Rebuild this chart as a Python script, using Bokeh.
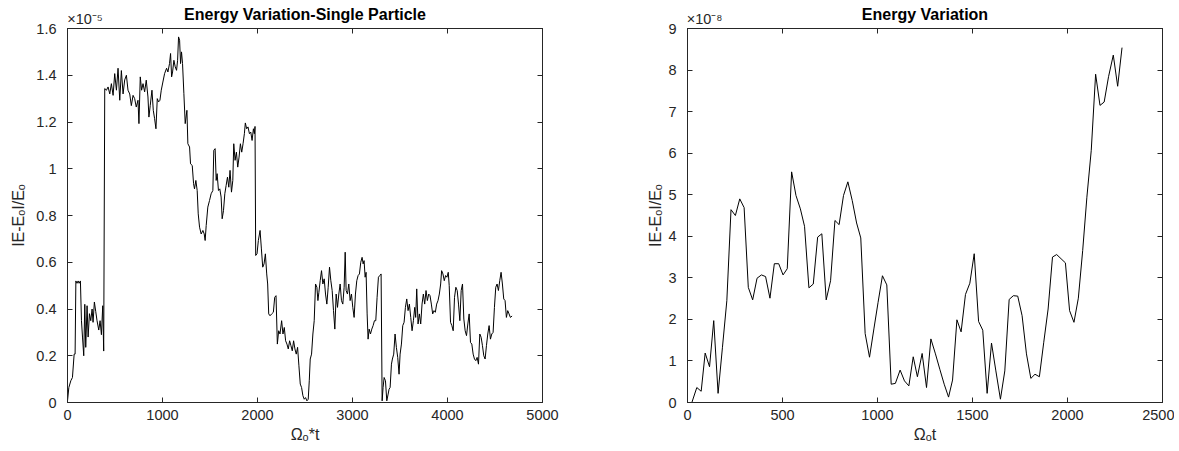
from bokeh.plotting import figure
from bokeh.layouts import row
from bokeh.models import Range1d, LinearAxis, FixedTicker, CustomJSTickFormatter
from bokeh.embed import file_html
from bokeh.resources import INLINE

# ---------------- data ----------------
# Left panel: single particle, y in units of 1e-5
left_x = [0, 14, 35, 52, 70, 80, 88, 100, 112, 122, 136, 147, 158, 171, 182, 192, 206, 217, 231, 245,
          259, 269, 283, 297, 311, 329, 343, 357, 371, 381, 392, 410, 427, 445, 462, 480, 497, 515, 532, 550,
          567, 585, 602, 620, 637, 655, 672, 690, 707, 724, 742, 752, 766, 780, 795, 812, 829, 847, 857, 871,
          889, 903, 917, 931, 945, 959, 973, 987, 1004, 1022, 1043, 1057, 1074, 1085, 1096, 1106, 1120, 1134, 1148, 1159,
          1169, 1180, 1190, 1200, 1211, 1225, 1239, 1257, 1267, 1285, 1295, 1313, 1327, 1337, 1351, 1365, 1376, 1390, 1407, 1425,
          1439, 1449, 1460, 1477, 1495, 1512, 1530, 1540, 1554, 1565, 1575, 1589, 1603, 1617, 1628, 1642, 1656, 1670, 1684, 1698,
          1711, 1726, 1740, 1750, 1764, 1778, 1792, 1806, 1820, 1834, 1848, 1862, 1872, 1886, 1900, 1915, 1929, 1943, 1957, 1967,
          1974, 1981, 1995, 2009, 2027, 2041, 2055, 2069, 2083, 2097, 2107, 2118, 2132, 2149, 2167, 2181, 2195, 2209, 2223, 2237,
          2254, 2268, 2282, 2296, 2310, 2324, 2338, 2352, 2366, 2380, 2394, 2408, 2422, 2436, 2450, 2464, 2478, 2492, 2506, 2520,
          2534, 2545, 2555, 2569, 2583, 2597, 2611, 2625, 2636, 2646, 2660, 2674, 2688, 2702, 2716, 2730, 2744, 2758, 2772, 2786,
          2800, 2814, 2828, 2842, 2856, 2870, 2884, 2898, 2912, 2923, 2933, 2947, 2961, 2975, 2989, 3003, 3017, 3031, 3045, 3059,
          3073, 3087, 3101, 3112, 3122, 3133, 3143, 3154, 3164, 3175, 3189, 3203, 3217, 3231, 3245, 3259, 3273, 3287, 3301, 3312,
          3322, 3333, 3347, 3361, 3375, 3385, 3396, 3410, 3420, 3434, 3448, 3462, 3476, 3490, 3501, 3515, 3529, 3543, 3557, 3571,
          3585, 3599, 3613, 3627, 3641, 3655, 3665, 3676, 3690, 3704, 3718, 3732, 3746, 3760, 3774, 3788, 3802, 3816, 3830, 3844,
          3858, 3872, 3886, 3900, 3914, 3928, 3938, 3952, 3966, 3980, 3994, 4008, 4018, 4032, 4046, 4060, 4074, 4088, 4102, 4116,
          4130, 4144, 4158, 4172, 4186, 4200, 4214, 4228, 4242, 4256, 4270, 4284, 4298, 4312, 4326, 4340, 4354, 4368, 4382, 4396,
          4410, 4424, 4438, 4452, 4466, 4480, 4494, 4508, 4522, 4536, 4550, 4564, 4578, 4592, 4606, 4620, 4634, 4648, 4662, 4680]
left_y = [0.007, 0.064, 0.093, 0.107, 0.207, 0.207, 0.52, 0.51, 0.52, 0.51, 0.52, 0.35, 0.28, 0.20, 0.42, 0.236, 0.414, 0.28, 0.38, 0.35,
          0.40, 0.343, 0.43, 0.39, 0.35, 0.31, 0.35, 0.29, 0.414, 0.22, 1.343, 1.336, 1.35, 1.32, 1.364, 1.314, 1.407, 1.336, 1.43, 1.293,
          1.42, 1.32, 1.38, 1.40, 1.336, 1.32, 1.27, 1.314, 1.30, 1.264, 1.293, 1.193, 1.393, 1.336, 1.364, 1.329, 1.379, 1.307, 1.221, 1.271,
          1.336, 1.25, 1.214, 1.171, 1.30, 1.286, 1.293, 1.336, 1.371, 1.407, 1.43, 1.414, 1.45, 1.493, 1.393, 1.414, 1.464, 1.436, 1.421, 1.464,
          1.564, 1.55, 1.45, 1.50, 1.45, 1.321, 1.193, 1.25, 1.107, 1.093, 1.021, 1.014, 0.936, 0.914, 0.95, 0.907, 0.807, 0.75, 0.721, 0.736,
          0.721, 0.693, 0.757, 0.836, 0.864, 0.893, 0.907, 1.079, 1.086, 0.95, 0.979, 0.907, 0.914, 0.879, 0.786, 0.821, 0.893, 0.929, 0.964, 0.921,
          0.993, 0.90, 0.95, 1.107, 1.036, 1.071, 1.007, 1.05, 1.107, 1.071, 1.107, 1.15, 1.196, 1.171, 1.179, 1.15, 1.157, 1.121, 1.171, 1.15,
          1.181, 0.629, 0.636, 0.693, 0.736, 0.657, 0.579, 0.593, 0.636, 0.55, 0.507, 0.379, 0.371, 0.379, 0.386, 0.45, 0.457, 0.25, 0.307, 0.293,
          0.35, 0.293, 0.321, 0.264, 0.25, 0.229, 0.264, 0.243, 0.221, 0.264, 0.229, 0.207, 0.236, 0.157, 0.079, 0.064, 0.029, 0.014, 0.021, 0.007,
          0.014, 0.093, 0.186, 0.207, 0.293, 0.35, 0.507, 0.493, 0.436, 0.471, 0.521, 0.564, 0.507, 0.529, 0.464, 0.421, 0.493, 0.579, 0.521, 0.479,
          0.393, 0.314, 0.464, 0.407, 0.464, 0.507, 0.436, 0.421, 0.493, 0.643, 0.479, 0.464, 0.507, 0.436, 0.464, 0.407, 0.364, 0.464, 0.521, 0.543,
          0.55, 0.60, 0.621, 0.593, 0.607, 0.536, 0.557, 0.379, 0.271, 0.314, 0.293, 0.314, 0.329, 0.35, 0.35, 0.45, 0.536, 0.543, 0.55, 0.007,
          0.064, 0.107, 0.093, 0.007, 0.036, 0.057, 0.064, 0.164, 0.186, 0.207, 0.293, 0.236, 0.193, 0.121, 0.207, 0.25, 0.329, 0.343, 0.407, 0.443,
          0.393, 0.421, 0.364, 0.307, 0.35, 0.407, 0.364, 0.486, 0.336, 0.379, 0.336, 0.421, 0.464, 0.421, 0.479, 0.436, 0.464, 0.457, 0.421, 0.379,
          0.393, 0.386, 0.421, 0.436, 0.464, 0.507, 0.564, 0.55, 0.521, 0.543, 0.536, 0.557, 0.50, 0.343, 0.329, 0.307, 0.45, 0.493, 0.479, 0.421,
          0.35, 0.479, 0.507, 0.357, 0.307, 0.286, 0.336, 0.379, 0.257, 0.25, 0.207, 0.186, 0.179, 0.193, 0.164, 0.293, 0.279, 0.243, 0.20, 0.186,
          0.243, 0.293, 0.329, 0.271, 0.293, 0.30, 0.407, 0.493, 0.507, 0.479, 0.521, 0.557, 0.507, 0.443, 0.436, 0.364, 0.393, 0.379, 0.364, 0.37]

# Right panel: all particles, y in units of 1e-8
right_x = [23, 49, 72, 93, 116, 138, 161, 184, 207, 229, 252, 275, 298, 320, 343, 366, 389, 411, 434, 457,
           480, 503, 525, 548, 571, 594, 616, 639, 662, 685, 707, 730, 753, 776, 798, 821, 844, 867, 890, 912,
           935, 958, 981, 1003, 1026, 1049, 1072, 1094, 1119, 1142, 1165, 1188, 1210, 1235, 1258, 1281, 1305, 1328, 1351, 1374,
           1395, 1418, 1440, 1463, 1486, 1509, 1532, 1554, 1577, 1600, 1623, 1647, 1670, 1693, 1715, 1738, 1761, 1784, 1807, 1829,
           1852, 1875, 1898, 1921, 1943, 1966, 1989, 2011, 2034, 2057, 2080, 2102, 2125, 2148, 2171, 2193, 2216, 2241, 2264, 2287]
right_y = [0.0, 0.36, 0.27, 1.19, 0.86, 1.97, 0.22, 1.33, 2.45, 4.64, 4.5, 4.9, 4.69, 2.77, 2.47, 2.99, 3.07, 3.03, 2.51, 3.34,
           3.34, 3.07, 3.22, 5.55, 4.98, 4.66, 4.24, 2.76, 2.85, 3.98, 4.06, 2.47, 2.93, 4.38, 4.28, 4.98, 5.31, 4.86, 4.32, 3.96,
           1.66, 1.09, 1.77, 2.41, 3.05, 2.83, 0.44, 0.46, 0.78, 0.52, 0.40, 1.10, 0.62, 1.18, 0.36, 1.53, 1.17, 0.80, 0.44, 0.13,
           0.54, 1.99, 1.70, 2.60, 2.87, 3.58, 1.95, 1.74, 0.22, 1.43, 0.76, 0.08, 0.76, 2.48, 2.57, 2.56, 2.09, 1.17, 0.58, 0.68,
           0.62, 1.45, 2.25, 3.50, 3.56, 3.46, 3.36, 2.21, 1.93, 2.51, 3.66, 4.94, 6.07, 7.90, 7.15, 7.23, 7.84, 8.36, 7.61, 8.54]

left_xticks = [0, 1000, 2000, 3000, 4000, 5000]
left_yticks = [0, 0.2, 0.4, 0.6, 0.8, 1.0, 1.2, 1.4, 1.6]
right_xticks = [0, 500, 1000, 1500, 2000, 2500]
right_yticks = [0, 1, 2, 3, 4, 5, 6, 7, 8, 9]

assert len(left_x) == len(left_y)
assert len(right_x) == len(right_y)

FONT = "Liberation Sans"
AX = "#262626"
TICK_FS = "14.5px"
LAB_FS = "16px"

num_fmt = CustomJSTickFormatter(code="return String(Math.round(tick*10)/10);")
blank_fmt = CustomJSTickFormatter(code="return '';")


def style_axis(ax, ticks, show_labels=True):
    ax.ticker = FixedTicker(ticks=ticks)
    ax.major_tick_in = 5
    ax.major_tick_out = 0
    ax.minor_tick_line_color = None
    ax.axis_line_color = AX
    ax.major_tick_line_color = AX
    ax.axis_line_width = 1
    ax.major_label_text_font = FONT
    ax.axis_label_text_font = FONT
    ax.axis_label_text_color = AX
    ax.axis_label_text_font_style = "normal"
    ax.axis_label_text_font_size = LAB_FS
    if show_labels:
        ax.formatter = num_fmt
        ax.major_label_text_font_size = TICK_FS
        ax.major_label_text_color = AX
    else:
        ax.formatter = blank_fmt
        ax.major_label_text_font_size = "0px"
        ax.major_label_text_color = None
        ax.major_label_standoff = 0


def make_panel(xs, ys, xmax, xticks, ymax, yticks, title, xlabel, ylabel, exp_txt, exp_x,
               bl, br, ylab_standoff):
    p = figure(frame_width=475, frame_height=374, output_backend="svg", toolbar_location=None,
               title=None,
               x_range=Range1d(0, xmax), y_range=Range1d(0, ymax),
               min_border_left=bl, min_border_right=br, min_border_top=28, min_border_bottom=48,
               background_fill_color="white", border_fill_color="white")
    p.line(xs, ys, line_color="black", line_width=1)
    p.xgrid.visible = False
    p.ygrid.visible = False
    p.outline_line_color = AX

    xa = p.xaxis[0]
    ya = p.yaxis[0]
    style_axis(xa, xticks)
    style_axis(ya, yticks)
    xa.axis_label = xlabel
    ya.axis_label = ylabel
    xa.major_label_standoff = 7
    xa.axis_label_standoff = 3
    ya.major_label_standoff = 11
    ya.axis_label_standoff = ylab_standoff

    # box ticks on top and right (no labels)
    top = LinearAxis()
    style_axis(top, xticks, show_labels=False)
    p.add_layout(top, "above")
    rgt = LinearAxis()
    style_axis(rgt, yticks, show_labels=False)
    p.add_layout(rgt, "right")

    # exponent marker + title, laid out in the band above the box
    ttl = LinearAxis(ticker=FixedTicker(ticks=[exp_x]),
                     formatter=CustomJSTickFormatter(code="return '%s';" % exp_txt))
    ttl.axis_line_color = None
    ttl.major_tick_line_color = None
    ttl.minor_tick_line_color = None
    ttl.major_tick_in = 0
    ttl.major_tick_out = 0
    ttl.major_label_standoff = 2
    ttl.major_label_text_font = FONT
    ttl.major_label_text_font_size = "14.5px"
    ttl.major_label_text_color = AX
    ttl.axis_label = title
    ttl.axis_label_text_font = FONT
    ttl.axis_label_text_font_size = "16px"
    ttl.axis_label_text_font_style = "bold"
    ttl.axis_label_text_color = "black"
    ttl.axis_label_standoff = -15
    p.add_layout(ttl, "above")
    return p


p1 = make_panel(left_x, left_y, 5000, left_xticks, 1.6, left_yticks,
                "Energy Variation-Single Particle", "\u03a9\u2092*t", "IE-E\u2092I/E\u2092",
                "\u00d710\u207b\u2075", 185, 67, 56, 6)
p2 = make_panel(right_x, right_y, 2500, right_xticks, 9, right_yticks,
                "Energy Variation", "\u03a9\u2092t", "IE-E\u2092I/E\u2092",
                "\u00d710\u207b\u2078", 90, 89, 12, 1)

layout = row(p1, p2)
open("out.html", "w").write(file_html(layout, INLINE))
